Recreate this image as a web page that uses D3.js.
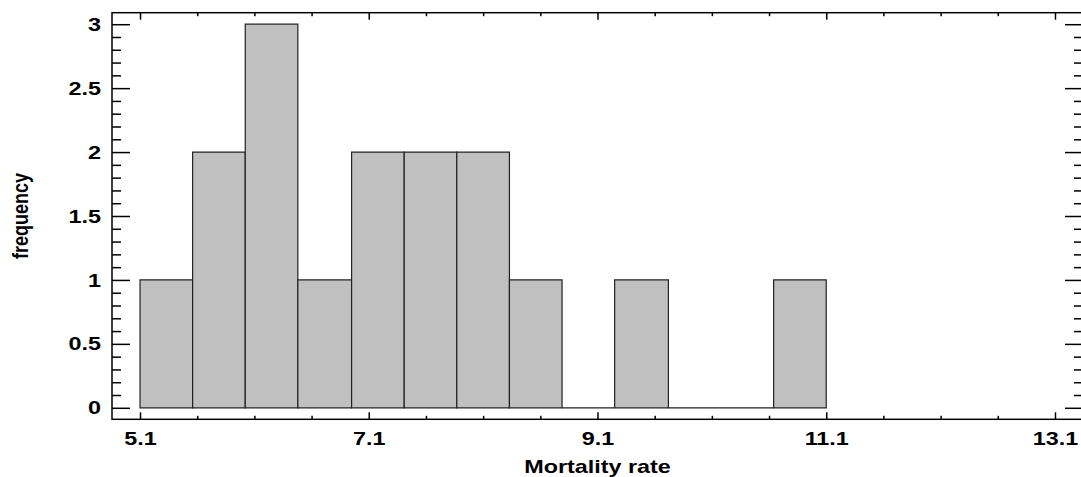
<!DOCTYPE html>
<html>
<head>
<meta charset="utf-8">
<script src="https://cdn.jsdelivr.net/npm/d3@7"></script>
<style>
  body { margin: 0; background: #fff; }
  text { font-family: "Liberation Sans", Arial, sans-serif; font-weight: bold; }
</style>
</head>
<body>
<div id="container"></div>
<script>
// histogram bins (edges) and counts
var binEdges = [5.1, 5.56, 6.02, 6.48, 6.95, 7.41, 7.87, 8.33, 8.79, 9.25, 9.72, 10.18, 10.64, 11.1];
var counts = [1, 2, 3, 1, 2, 2, 2, 1, 0, 1, 0, 0, 1];
var xMajor = [5.1, 7.1, 9.1, 11.1, 13.1];
var xMinor = [5.6, 6.1, 6.6, 7.6, 8.1, 8.6, 9.6, 10.1, 10.6, 11.6, 12.1, 12.6];
var yMajor = [0, 0.5, 1, 1.5, 2, 2.5, 3];
var yMinor = [0.1, 0.2, 0.3, 0.4, 0.6, 0.7, 0.8, 0.9, 1.1, 1.2, 1.3, 1.4, 1.6, 1.7, 1.8, 1.9,
  2.1, 2.2, 2.3, 2.4, 2.6, 2.7, 2.8, 2.9];
var xTitle = "Mortality rate";
var yTitle = "frequency";

var width = 1081,
  height = 477,
  margin = { top: 12.7, left: 112 },
  plotW = 971,
  plotH = 406.6,
  fontSize = 19,
  stretch = 1.23; // the original text is drawn wider than normal

var bins = counts.map(function (c, i) {
  return { x0: binEdges[i], x1: binEdges[i + 1], count: c };
});

var xScale = d3.scaleLinear().domain([4.855, 13.345]).range([0, plotW]);
var yScale = d3.scaleLinear().domain([-0.09, 3.09]).range([plotH, 0]);

var svg = d3.select("#container").append("svg")
  .attr("width", width)
  .attr("height", height);

var g = svg.append("g").attr("transform", "translate(" + margin.left + "," + margin.top + ")");

// bars (drawn as closed paths so empty bins still show a baseline)
g.append("g").attr("class", "bars")
  .selectAll("path")
  .data(bins)
  .enter().append("path")
  .attr("d", function (d) {
    var p = d3.path();
    p.moveTo(xScale(d.x0), yScale(0));
    p.lineTo(xScale(d.x0), yScale(d.count));
    p.lineTo(xScale(d.x1), yScale(d.count));
    p.lineTo(xScale(d.x1), yScale(0));
    p.closePath();
    return p.toString();
  })
  .style("fill", "#c0c0c0")
  .style("stroke", "#222")
  .style("stroke-width", 1.2);

function cleanAxis(sel) {
  sel.select(".domain").remove();
  sel.selectAll(".tick line").style("stroke", "#000").style("stroke-width", 1.5);
  sel.selectAll(".tick text").style("font-size", fontSize + "px").style("fill", "#000")
    .style("font-family", "'Liberation Sans', Arial, sans-serif").style("font-weight", "bold");
}

// bottom axis
var gxb = g.append("g").attr("transform", "translate(0," + plotH + ")")
  .call(d3.axisBottom(xScale).tickValues(xMajor).tickSize(-7).tickPadding(12).tickFormat(d3.format(".1f")))
  .call(cleanAxis);
gxb.selectAll(".tick text").attr("transform", "scale(" + stretch + ",1)");
g.append("g").attr("transform", "translate(0," + plotH + ")")
  .call(d3.axisBottom(xScale).tickValues(xMinor).tickSize(-3.5).tickFormat(""))
  .call(cleanAxis);
// top axis
g.append("g")
  .call(d3.axisTop(xScale).tickValues(xMajor).tickSize(-7).tickFormat(""))
  .call(cleanAxis);
g.append("g")
  .call(d3.axisTop(xScale).tickValues(xMinor).tickSize(-3.5).tickFormat(""))
  .call(cleanAxis);
// left axis
var gyl = g.append("g")
  .call(d3.axisLeft(yScale).tickValues(yMajor).tickSize(-18).tickFormat(function (d) { return d; }))
  .call(cleanAxis);
gyl.selectAll(".tick text")
  .attr("x", -11 / stretch)
  .attr("transform", "scale(" + stretch + ",1)");
g.append("g")
  .call(d3.axisLeft(yScale).tickValues(yMinor).tickSize(-9).tickFormat(""))
  .call(cleanAxis);
// right axis
g.append("g").attr("transform", "translate(" + plotW + ",0)")
  .call(d3.axisRight(yScale).tickValues(yMajor).tickSize(-18).tickFormat(""))
  .call(cleanAxis);
g.append("g").attr("transform", "translate(" + plotW + ",0)")
  .call(d3.axisRight(yScale).tickValues(yMinor).tickSize(-9).tickFormat(""))
  .call(cleanAxis);

// frame
g.append("rect")
  .attr("width", plotW)
  .attr("height", plotH)
  .style("fill", "none")
  .style("stroke", "#000")
  .style("stroke-width", 1.5);

// titles
svg.append("text")
  .attr("transform", "translate(" + (margin.left + xScale(9.1)) + ",473) scale(" + stretch + ",1)")
  .attr("text-anchor", "middle")
  .style("font-size", fontSize + "px")
  .text(xTitle);

svg.append("text")
  .attr("transform", "translate(28," + (margin.top + plotH / 2) + ") scale(" + stretch + ",1) rotate(-90)")
  .attr("text-anchor", "middle")
  .style("font-size", "18px")
  .text(yTitle);
</script>
</body>
</html>
